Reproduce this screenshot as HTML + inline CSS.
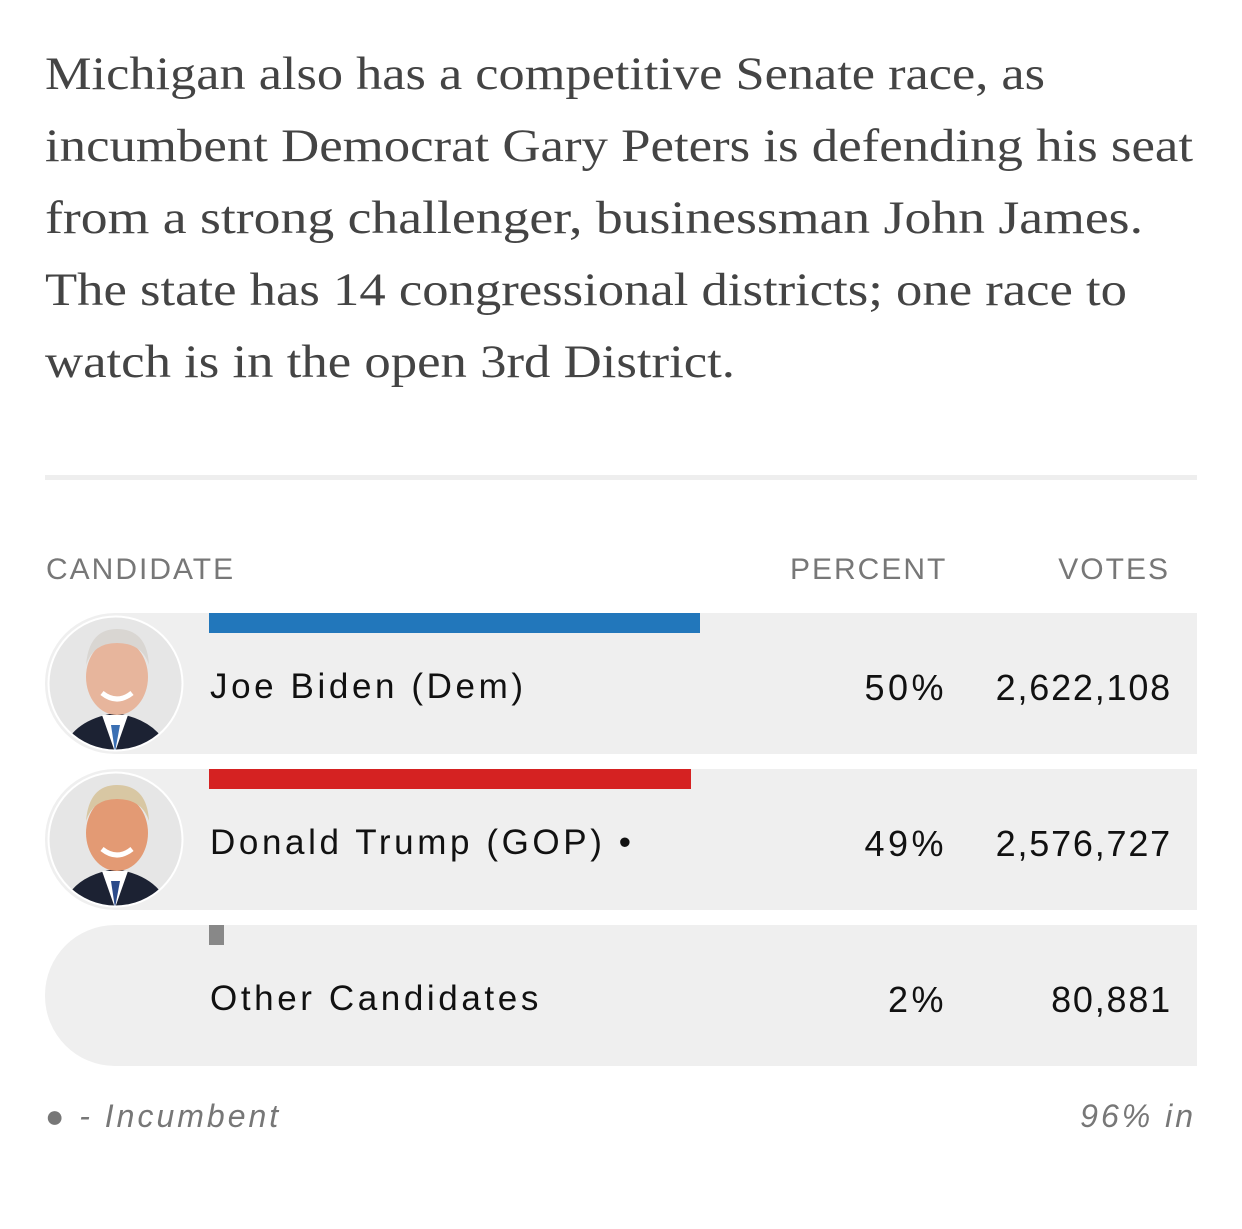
<!DOCTYPE html>
<html><head><meta charset="utf-8"><style>
body{margin:0;width:1242px;height:1229px;background:#fff;position:relative;overflow:hidden;font-family:"Liberation Sans",sans-serif}
.p{position:absolute;left:45px;top:38px;width:1190px;font-family:"Liberation Serif",serif;font-size:47px;line-height:72px;color:#444}
.p span{display:block;white-space:nowrap;transform-origin:0 50%;width:max-content}
.rule{position:absolute;left:45px;top:475px;width:1152px;height:5px;background:#eee}
.h{position:absolute;top:553px;font-size:30px;letter-spacing:2px;color:#777}
.row{position:absolute;left:45px;width:1152px;height:141px;background:#efefef;border-radius:70px 0 0 70px}
.bar{position:absolute;left:164px;top:0;height:20px}
.nm{position:absolute;left:165px;top:54px;font-size:35px;letter-spacing:3.6px;color:#111}
.pc{position:absolute;right:250px;top:54px;font-size:36px;letter-spacing:3.5px;color:#111}
.vt{position:absolute;right:25px;top:54px;font-size:36px;color:#111;letter-spacing:1.8px}
.ph{position:absolute;left:2px;top:2px;width:137px;height:137px}
.f{position:absolute;top:1098px;font-size:32px;font-style:italic;color:#777;letter-spacing:3px}
</style></head><body>
<div class="p"><span>Michigan also has a competitive Senate race, as</span><span>incumbent Democrat Gary Peters is defending his seat</span><span>from a strong challenger, businessman John James.</span><span>The state has 14 congressional districts; one race to</span><span>watch is in the open 3rd District.</span></div>
<div class="rule"></div>
<div class="h" style="left:46px">CANDIDATE</div>
<div class="h" style="left:790px">PERCENT</div>
<div class="h" style="right:72px">VOTES</div>
<div id="rows"></div>
<div class="f" style="left:45px">● - Incumbent</div>
<div class="f" style="right:46px">96% in</div>
<script>
const lineW=[1000,1148,1098,1082,690];
document.querySelectorAll('.p span').forEach((s,i)=>{const w=s.getBoundingClientRect().width;s.style.transform='scaleX('+(lineW[i]/w)+')';});
const names=["Joe Biden (Dem)","Donald Trump (GOP) •","Other Candidates"];
const votes=[2622108,2576727,80881];
const pcts=["50%","49%","2%"];
const colors=["#2277bb","#d52222","#888"];
const total=votes.reduce((a,b)=>a+b,0);
const scale=988;
const cont=document.getElementById('rows');
function face(hair,skin,tie){return `<svg viewBox="0 0 137 137" width="137" height="137"><defs><clipPath id="c${hair}"><circle cx="68.5" cy="68.5" r="66"/></clipPath></defs><circle cx="68.5" cy="68.5" r="68" fill="#fff"/><g clip-path="url(#c${hair})"><rect width="137" height="137" fill="#e6e6e6"/><path d="M15 137 Q25 105 68 98 Q112 105 122 137Z" fill="#1c2233"/><path d="M55 100 L68 137 L81 100Z" fill="#fff"/><path d="M64 110 L68 137 L73 110Z" fill="${tie}"/><ellipse cx="70" cy="62" rx="31" ry="38" fill="${skin}"/><path d="M39 50 Q42 14 70 14 Q100 14 102 50 Q95 28 70 28 Q46 28 39 50Z" fill="${hair}"/><path d="M55 78 Q70 90 85 78" stroke="#fff" stroke-width="5" fill="none"/></g></svg>`;}
const faces=[face("#d9d6d2","#e7b59c","#3a6fb3"),face("#d8c7a3","#e39a74","#2b4a8a"),""];
names.forEach((n,i)=>{
 const r=document.createElement('div');r.className='row';r.style.top=(613+i*156)+'px';
 
 
 const w=votes[i]/total*scale;
 r.innerHTML=`<div class="ph">${faces[i]}</div><div class="bar" style="width:${w}px;background:${colors[i]}"></div><div class="nm">${n}</div><div class="pc">${pcts[i]}</div><div class="vt">${votes[i].toLocaleString('en-US')}</div>`;
 const b=r.querySelector('.bar');
 
 
 cont.appendChild(r);
});
</script>
</body></html>
